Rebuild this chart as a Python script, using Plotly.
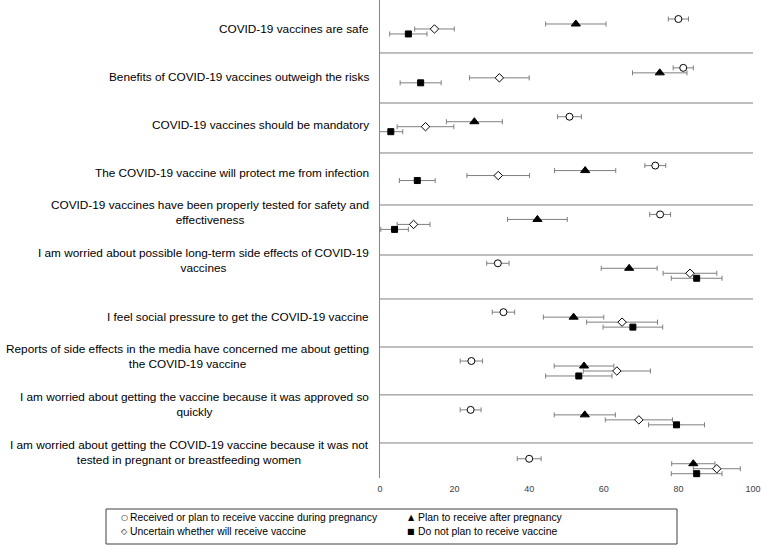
import plotly.graph_objects as go

statements = [
    "COVID-19 vaccines are safe",
    "Benefits of COVID-19 vaccines outweigh the risks",
    "COVID-19 vaccines should be mandatory",
    "The COVID-19 vaccine will protect me from infection",
    "COVID-19 vaccines have been properly tested for safety and<br>effectiveness",
    "I am worried about possible long-term side effects of COVID-19<br>vaccines",
    "I feel social pressure to get the COVID-19 vaccine",
    "Reports of side effects in the media have concerned me about getting<br>the COVID-19 vaccine",
    "I am worried about getting the vaccine because it was approved so<br>quickly",
    "I am worried about getting the COVID-19 vaccine because it was not<br>tested in pregnant or breastfeeding women",
]

received = [80.0, 81.3, 50.8, 73.8, 75.1, 31.6, 33.1, 24.5, 24.3, 40.0]
received_err = [2.7, 2.7, 3.2, 2.8, 2.8, 3.0, 3.0, 3.0, 2.8, 3.2]
after = [52.5, 75.0, 25.3, 55.0, 42.2, 66.8, 51.9, 54.7, 54.9, 84.0]
after_err = [8.1, 7.3, 7.5, 8.2, 8.0, 7.5, 8.1, 8.0, 8.2, 5.8]
uncertain = [14.6, 32.0, 12.2, 31.7, 9.0, 83.1, 64.9, 63.5, 69.4, 90.3]
uncertain_err = [5.3, 8.0, 7.6, 8.4, 4.4, 7.2, 9.5, 9.0, 9.0, 6.3]
no_plan = [7.6, 10.9, 2.9, 10.0, 3.9, 84.9, 67.8, 53.3, 79.5, 84.9]
no_plan_err = [5.0, 5.5, 3.2, 4.8, 3.7, 6.8, 8.0, 8.9, 7.5, 6.8]

series_names = [
    "Received or plan to receive vaccine during pregnancy",
    "Plan to receive after pregnancy",
    "Uncertain whether will receive vaccine",
    "Do not plan to receive vaccine",
]
legend_glyphs = ["\u25CB", "\u25B2", "\u25C7", "\u25A0"]
x_ticks = [0, 20, 40, 60, 80, 100]

FONT = "Liberation Sans, Arial, sans-serif"
GRAY = "#7f7f7f"

W, H = 761, 545
ML, MR, MT, MB = 380, 8, 0, 67
PW, PH = W - ML - MR, H - MT - MB


def px_x(p):
    return (p - ML) / PW


def px_y(p):
    return (MT + PH - p) / PH


series = [
    (series_names[0], received, received_err, "circle", 7, "white", -0.153),
    (series_names[1], after, after_err, "triangle-up", 8, "black", -0.051),
    (series_names[2], uncertain, uncertain_err, "diamond", 6.5, "white", 0.051),
    (series_names[3], no_plan, no_plan_err, "square", 6, "black", 0.153),
]

fig = go.Figure()
n = len(statements)
for name, vals, errs, sym, size, fill, off in series:
    fig.add_trace(go.Scatter(
        x=vals,
        y=[i + off for i in range(n)],
        mode="markers",
        name=name,
        showlegend=False,
        marker=dict(symbol=sym, size=size, color=fill,
                    line=dict(color="black", width=1)),
        error_x=dict(type="data", array=errs, visible=True,
                     color=GRAY, thickness=1, width=2.5),
        hovertext=statements,
    ))

# category labels
for i, s in enumerate(statements):
    multi = "<br>" in s
    fig.add_annotation(
        xref="paper", x=0, xanchor="right", xshift=-9,
        yref="y", y=(29 + 48 * i - 26.5) / 48.86, yanchor="middle",
        yshift=8 if multi else 0,
        text=s, showarrow=False, align="center",
        font=dict(family=FONT, size=11.8, color="black"),
    )

# separators between statements
separators = [0.542, 1.566, 2.589, 3.653, 4.677, 5.577, 6.56, 7.54, 8.524]
for yv in separators:
    fig.add_shape(type="line", xref="x", x0=0, x1=100, yref="y", y0=yv, y1=yv,
                  line=dict(color=GRAY, width=1), layer="below")

# legend box (drawn like the original's boxed key)
fig.add_shape(type="rect", xref="paper", yref="paper",
              x0=px_x(106), x1=px_x(677), y0=px_y(544), y1=px_y(509),
              line=dict(color="#404040", width=1), fillcolor="white", layer="below")
legend_pos = [(124, 128, 517), (411, 416, 517), (124, 128, 531), (411, 416, 531)]
for (sx, tx, ty), glyph, name in zip(legend_pos, legend_glyphs, series_names):
    fig.add_annotation(xref="paper", yref="paper", x=px_x(sx), y=px_y(ty),
                       xanchor="center", yanchor="middle", text=glyph, showarrow=False,
                       font=dict(family="DejaVu Sans", size=8, color="black"))
    fig.add_annotation(xref="paper", yref="paper", x=px_x(tx), y=px_y(ty),
                       xanchor="left", yanchor="middle", text=name, showarrow=False,
                       font=dict(family=FONT, size=10.4, color="black"))

fig.update_layout(
    width=W, height=H,
    margin=dict(l=ML, r=MR, t=MT, b=MB, autoexpand=False),
    paper_bgcolor="white", plot_bgcolor="white",
    font=dict(family=FONT, size=12, color="black"),
    showlegend=False,
    xaxis=dict(range=[0, 100], tickvals=x_ticks, ticktext=[str(t) for t in x_ticks],
               showgrid=False, zeroline=False, showline=False, ticks="",
               ticklabelstandoff=4,
               tickfont=dict(family=FONT, size=9, color="#404040")),
    yaxis=dict(range=[9.241, -0.542], showticklabels=False, showgrid=False,
               zeroline=False, showline=True, linecolor="#868686", linewidth=1,
               ticks=""),
)

fig.write_html("out.html", config={"displayModeBar": False},
               post_script="document.body.style.margin='0';document.body.style.overflow='hidden';")
